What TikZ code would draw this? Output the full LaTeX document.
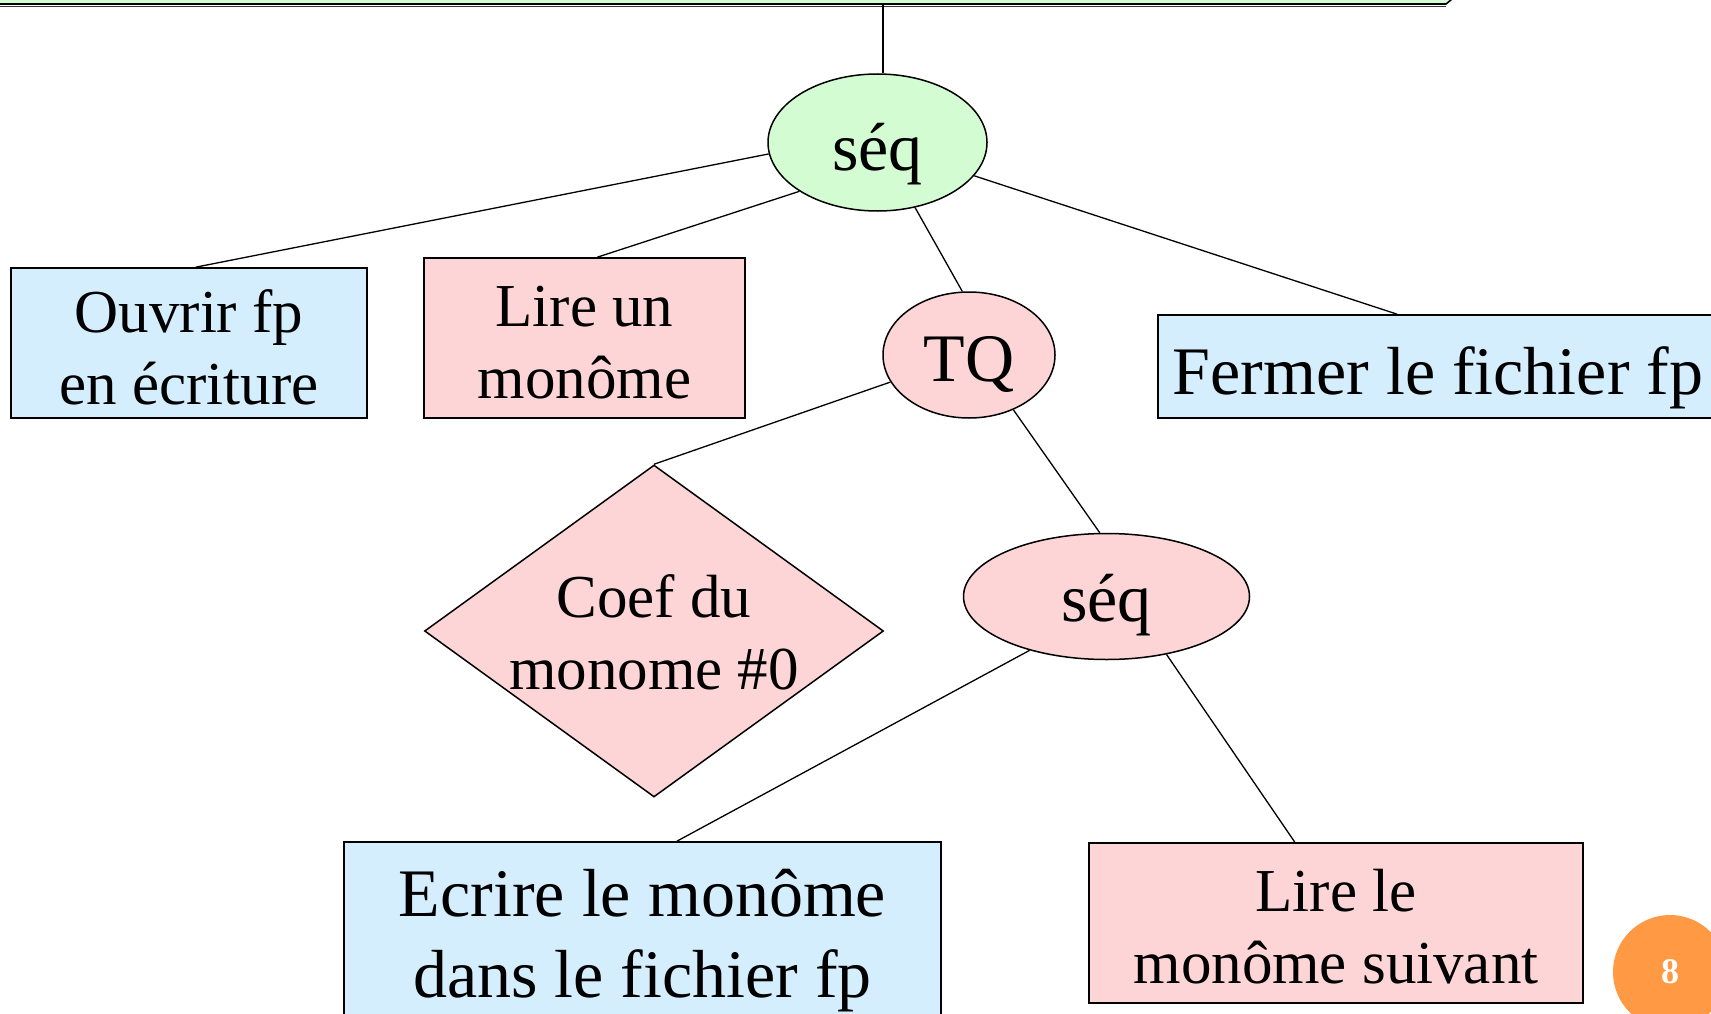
\documentclass[tikz,border=0pt]{standalone}
\usepackage{fontspec}
\setmainfont{Liberation Serif}
\usetikzlibrary{shapes.geometric}
\definecolor{fgreen}{RGB}{211,252,211}
\definecolor{fblue}{RGB}{212,238,253}
\definecolor{fpink}{RGB}{254,213,214}
\definecolor{forange}{RGB}{255,153,68}
\newcommand\topfix[1]{\rule{0pt}{#1pt}}
\begin{document}
\begin{tikzpicture}[x=1pt,y=-1pt,
  box/.style={draw, line width=1.6pt, rectangle, inner sep=0pt, align=center},
  oval/.style={draw, line width=1.5pt, ellipse, inner sep=0pt, text depth=0pt},
  choice/.style={draw, line width=1.5pt, diamond, aspect=1.38, inner sep=0pt, align=center},
  small/.style={font=\fontsize{61}{72}\selectfont},
  big/.style={font=\fontsize{68}{81}\selectfont},
  conn/.style={line width=1.3pt}]
\clip (0,0) rectangle (1711,1014);
\useasboundingbox (0,0) rectangle (1711,1014);

% top (partially visible) box
\fill[fgreen] (-10,-60) -- (1470,-60) -- (1446,4) -- (-10,4) -- cycle;
\draw[black!80, line width=1.4pt] (-10,6.5) -- (1446,6.5);
\draw[line width=1.6pt] (-10,4) -- (1446,4) -- (1452,-1);
\coordinate (topb) at (883,5);

% nodes
\node[oval, fill=fgreen, big, text height=57pt, minimum width=219pt, minimum height=137pt] (seq1) at (877.5,142.5) {séq};
\node[box, fill=fblue, small, minimum width=356pt, minimum height=150pt] (ouvrir) at (189,343) {\topfix{51}Ouvrir fp\\en écriture};
\node[box, fill=fpink, small, minimum width=321pt, minimum height=160pt] (lire1) at (584.5,338) {\topfix{49}Lire un\\monôme};
\node[oval, fill=fpink, big, text height=52pt, minimum width=172pt, minimum height=126pt] (tq) at (969,355) {TQ};
\node[box, fill=fblue, big, minimum width=560pt, minimum height=103pt, text height=55pt, text depth=0pt] (fermer) at (1438,366.5) {Fermer le fichier fp};
\node[choice, fill=fpink, small, minimum width=459pt, minimum height=332pt] (coef) at (654,631) {\topfix{46}Coef du\\monome \#0};
\node[oval, fill=fpink, big, text height=50pt, minimum width=286pt, minimum height=126pt] (seq2) at (1106.5,596.5) {séq};
\node[box, fill=fblue, big, minimum width=597pt, minimum height=198pt] (ecrire) at (642.5,941) {Ecrire le monôme\\dans le fichier fp};
\node[box, fill=fpink, small, minimum width=494pt, minimum height=160pt] (lire2) at (1336,923) {\topfix{50}Lire le\\monôme suivant};
\node[circle, fill=forange, minimum size=114pt, inner sep=0pt, text=white, font=\bfseries\fontsize{36}{40}\selectfont] (pg) at (1670,972) {8};

% connectors
\draw[conn] (topb) -- (seq1.north -| topb);
\draw[conn] (seq1.186) -- (ouvrir.85);
\draw[conn] (seq1.212) -- (lire1.81);
\draw[conn] (seq1.300) -- (tq.96);
\draw[conn] (seq1.341) -- (fermer.128);
\draw[conn] (tq.199) -- (coef.north);
\draw[conn] (tq.309) -- (seq2.96);
\draw[conn] (seq2.215) -- (ecrire.71);
\draw[conn] (seq2.316) -- (lire2.117);
\end{tikzpicture}
\end{document}
